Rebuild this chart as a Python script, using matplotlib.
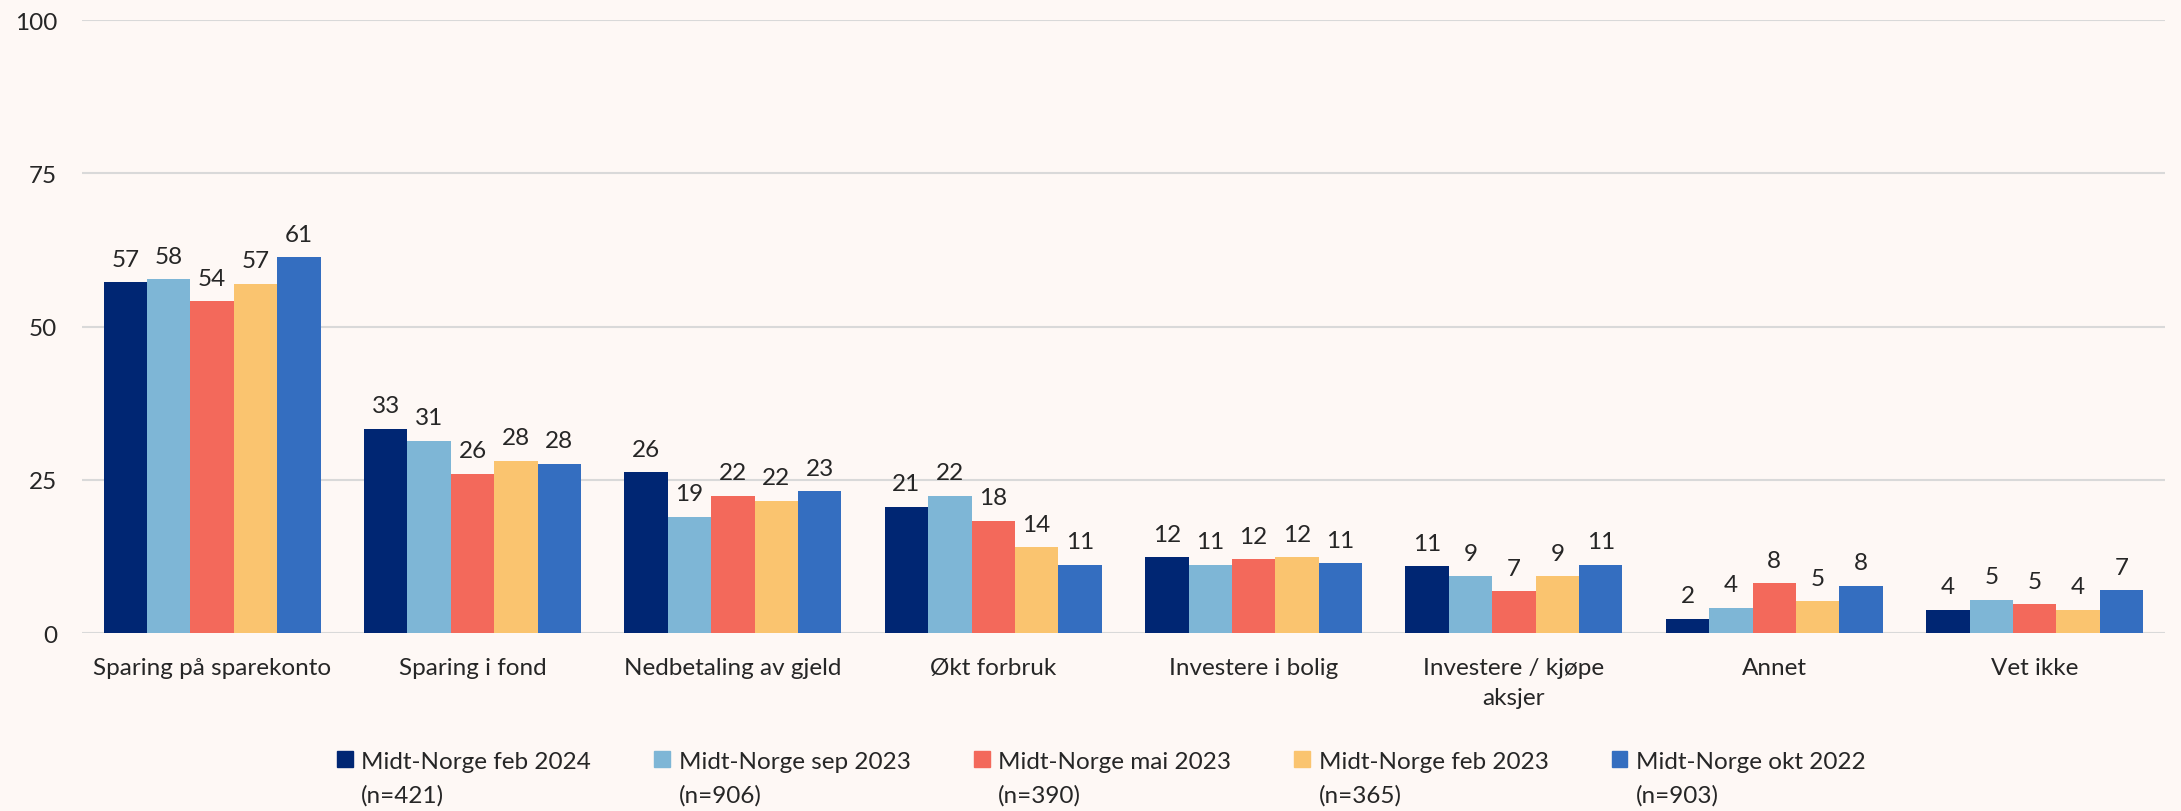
import numpy as np
import matplotlib
matplotlib.use("Agg")
import matplotlib.pyplot as plt
from matplotlib.patches import Patch

plt.rcParams['font.family'] = ['Lato', 'DejaVu Sans']

categories = ["Sparing på sparekonto", "Sparing i fond", "Nedbetaling av gjeld",
              "Økt forbruk", "Investere i bolig", "Investere / kjøpe\naksjer",
              "Annet", "Vet ikke"]

series_names = ["Midt-Norge feb 2024", "Midt-Norge sep 2023", "Midt-Norge mai 2023",
                "Midt-Norge feb 2023", "Midt-Norge okt 2022"]
series_n = ["(n=421)", "(n=906)", "(n=390)", "(n=365)", "(n=903)"]

feb_2024 = [57.2, 33.3, 26.2, 20.6, 12.4, 10.9, 2.3, 3.8]
sep_2023 = [57.7, 31.4, 19.0, 22.4, 11.1, 9.3, 4.1, 5.4]
mai_2023 = [54.1, 26.0, 22.4, 18.3, 12.0, 6.8, 8.1, 4.7]
feb_2023 = [57.0, 28.1, 21.6, 14.0, 12.4, 9.3, 5.2, 3.8]
okt_2022 = [61.3, 27.6, 23.1, 11.1, 11.4, 11.1, 7.7, 7.0]
series = [feb_2024, sep_2023, mai_2023, feb_2023, okt_2022]

colors = ["#002673", "#7EB6D6", "#F3695B", "#FAC46F", "#346EC0"]
bg = "#FEF8F5"
txt = "#262626"
fs = 17.5

fig = plt.figure(figsize=(21.81, 8.12), dpi=100, facecolor=bg)
ax = fig.add_axes([0.0376, 0.2192, 0.955, 0.7548])
ax.set_facecolor(bg)

x = np.arange(len(categories))
w = 0.1667
for i, vals in enumerate(series):
    bars = ax.bar(x + (i - 2) * w, vals, width=w, color=colors[i], zorder=3,
                  label=series_names[i])
    ax.bar_label(bars, labels=[f"{round(v):d}" for v in vals], padding=9,
                 fontsize=fs, color=txt)

ax.set_xlim(-0.5, len(categories) - 0.5)
ax.set_ylim(0, 100)
ax.set_yticks([0, 25, 50, 75, 100])
ax.set_xticks(x)
ax.set_xticklabels(categories, fontsize=fs, color=txt, linespacing=1.55)
ax.tick_params(axis='x', length=0, pad=17)
ax.tick_params(axis='y', length=0, pad=18, labelsize=fs, labelcolor=txt)
ax.grid(axis='y', color="#D9D9D9", linewidth=1.5, zorder=0)
for s in ax.spines.values():
    s.set_visible(False)

handles = [Patch(color=c) for c in colors]
labels = [f"{a}\n{b}" for a, b in zip(series_names, series_n)]
leg = fig.legend(handles, labels, loc='upper left', bbox_to_anchor=(0.1545, 0.074),
                 ncol=5, frameon=False, fontsize=fs, handlelength=0.65,
                 handleheight=0.65, handletextpad=0.35, columnspacing=2.6,
                 borderpad=0, borderaxespad=0)
for t in leg.get_texts():
    t.set_color(txt)
    t.set_linespacing(1.7)
# put the colour square next to the first line of each entry
for col in leg._legend_handle_box.get_children():
    for item in col.get_children():
        item.align = "top"

fig.savefig("out.png", dpi=100, facecolor=bg)
